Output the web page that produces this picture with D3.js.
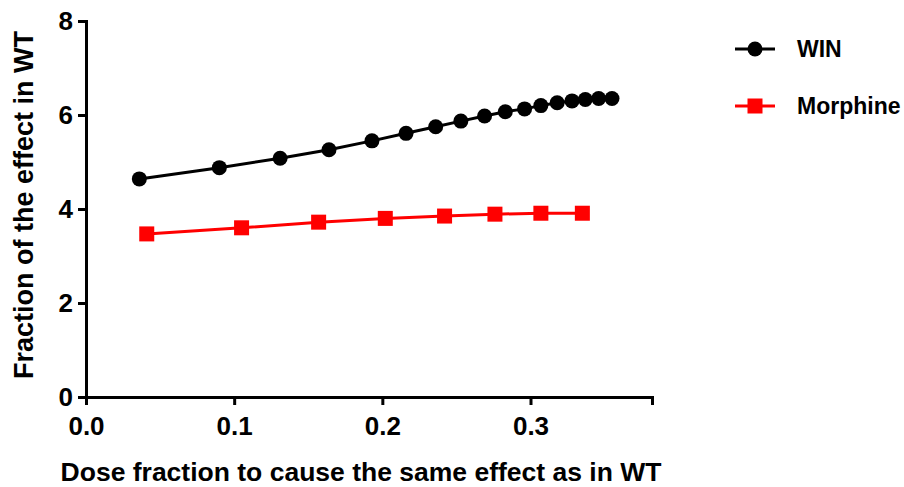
<!DOCTYPE html>
<html>
<head>
<meta charset="utf-8">
<script src="https://cdn.jsdelivr.net/npm/d3@7"></script>
<style>
  body { margin: 0; background: #fff; }
  text { font-family: "Liberation Sans", Arial, sans-serif; font-weight: bold; }
</style>
</head>
<body>
<script>
const width = 904;
const height = 487;

// values
const winDose = [0.036, 0.090, 0.131, 0.164, 0.193, 0.216, 0.236, 0.253, 0.269, 0.283, 0.296, 0.307, 0.318, 0.328, 0.337, 0.346, 0.355];
const winEffect = [4.64, 4.88, 5.08, 5.26, 5.45, 5.61, 5.75, 5.87, 5.98, 6.07, 6.13, 6.20, 6.26, 6.30, 6.33, 6.35, 6.35];
const morDose = [0.041, 0.105, 0.157, 0.202, 0.242, 0.276, 0.307, 0.335];
const morEffect = [3.47, 3.60, 3.72, 3.80, 3.85, 3.89, 3.91, 3.91];
const xTicks = [0, 0.1, 0.2, 0.3];
const yTicks = [0, 2, 4, 6, 8];
const seriesNames = ["WIN", "Morphine"];

const margin = { left: 86, right: 252, top: 21, bottom: 90 };

const svg = d3.select("body")
    .append("svg")
    .attr("width", width)
    .attr("height", height);

const x = d3.scaleLinear()
    .domain([0, 0.382])
    .range([margin.left, width - margin.right]);

const y = d3.scaleLinear()
    .domain([0, 8])
    .range([height - margin.bottom, margin.top]);

// axes
const xAxis = svg.append("g")
    .attr("transform", `translate(0,${y(0)})`)
    .call(d3.axisBottom(x).tickValues(xTicks).tickFormat(d3.format(".1f")).tickSize(8).tickPadding(12));

const yAxis = svg.append("g")
    .attr("transform", `translate(${x(0)},0)`)
    .call(d3.axisLeft(y).tickValues(yTicks).tickSize(8).tickPadding(5));

[xAxis, yAxis].forEach(function (g) {
    g.select(".domain").attr("stroke", "#000").attr("stroke-width", 3);
    g.selectAll(".tick line").attr("stroke", "#000").attr("stroke-width", 3);
    g.selectAll(".tick text")
        .attr("fill", "#000")
        .style("font-size", "26px")
        .style("font-family", "Liberation Sans, Arial, sans-serif")
        .style("font-weight", "bold");
});

// axis titles
svg.append("text")
    .attr("x", 361)
    .attr("y", 481)
    .attr("text-anchor", "middle")
    .style("font-size", "26.5px")
    .text("Dose fraction to cause the same effect as in WT");

svg.append("text")
    .attr("transform", "translate(33,205) rotate(-90)")
    .attr("text-anchor", "middle")
    .style("font-size", "27px")
    .text("Fraction of the effect in WT");

// series
const line = d3.line()
    .x(d => x(d[0]))
    .y(d => y(d[1]));

const win = d3.zip(winDose, winEffect);
const mor = d3.zip(morDose, morEffect);

svg.append("path")
    .datum(win)
    .attr("d", line)
    .attr("fill", "none")
    .attr("stroke", "#000")
    .attr("stroke-width", 3);

svg.selectAll("circle.win")
    .data(win)
    .enter()
    .append("circle")
    .attr("class", "win")
    .attr("cx", d => x(d[0]))
    .attr("cy", d => y(d[1]))
    .attr("r", 7.5)
    .attr("fill", "#000");

svg.append("path")
    .datum(mor)
    .attr("d", line)
    .attr("fill", "none")
    .attr("stroke", "#f00")
    .attr("stroke-width", 3);

const sq = 15;
svg.selectAll("rect.mor")
    .data(mor)
    .enter()
    .append("rect")
    .attr("class", "mor")
    .attr("x", d => x(d[0]) - sq / 2)
    .attr("y", d => y(d[1]) - sq / 2)
    .attr("width", sq)
    .attr("height", sq)
    .attr("fill", "#f00");

// legend
const legend = svg.append("g").attr("transform", "translate(735,49)");
const colors = ["#000", "#f00"];

seriesNames.forEach(function (name, i) {
    const g = legend.append("g").attr("transform", `translate(0,${i * 57})`);
    g.append("line")
        .attr("x1", 0).attr("x2", 40)
        .attr("stroke", colors[i])
        .attr("stroke-width", 3);
    if (i === 0) {
        g.append("circle").attr("cx", 20).attr("r", 7.5).attr("fill", colors[i]);
    } else {
        g.append("rect").attr("x", 20 - sq / 2).attr("y", -sq / 2)
            .attr("width", sq).attr("height", sq).attr("fill", colors[i]);
    }
    g.append("text")
        .attr("x", 62)
        .attr("dy", "0.36em")
        .style("font-size", "23px")
        .text(name);
});
</script>
</body>
</html>
